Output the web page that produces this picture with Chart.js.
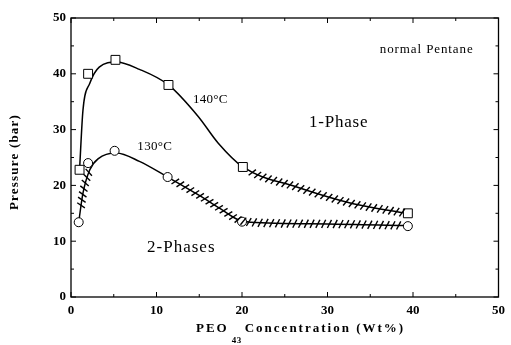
<!DOCTYPE html>
<html><head><meta charset="utf-8">
<script src="https://cdn.jsdelivr.net/npm/chart.js@4.4.1/dist/chart.umd.min.js"></script>
<style>html,body{margin:0;padding:0;background:#fff}#wrap{width:511px;height:345px}</style>
</head><body><div id="wrap"><canvas id="c" width="511" height="345"></canvas></div>
<script>
// ---- data ----
const xTickValues = [0, 10, 20, 30, 40, 50];
const yTickValues = [0, 10, 20, 30, 40, 50];
const conc140 = [1.0, 2.0, 5.2, 11.4, 20.1, 39.4];
const press140 = [22.8, 40.0, 42.5, 38.0, 23.3, 15.0];
const conc130 = [0.9, 2.0, 5.1, 11.3, 20.0, 39.4];
const press130 = [13.4, 24.0, 26.2, 21.5, 13.5, 12.7];
const curve140X = [1.0, 1.4, 2.2, 3.3, 5.3, 8.0, 11.4, 14.9, 17.2, 20.1, 26.4, 33.0, 38.8];
const curve140Y = [22.8, 33.5, 38.3, 41.2, 42.1, 40.8, 38.0, 32.3, 27.6, 23.3, 19.7, 16.7, 15.1];
const curve130X = [0.9, 1.4, 2.2, 3.2, 5.3, 8.0, 11.3, 14.9, 17.5, 19.5, 21.0, 30.0, 39.0];
const curve130Y = [13.4, 18.6, 22.8, 24.8, 25.8, 24.3, 21.5, 18.3, 15.8, 13.9, 13.4, 13.1, 12.8];
const hatch140 = [[20.8, 38.8]];
const hatch130 = [[1.1, 2.1], [11.9, 38.9]];
const labels = ['normal Pentane', '1-Phase', '140°C', '130°C', '2-Phases'];

const pts = (xs, ys) => xs.map((x, i) => ({x, y: ys[i]}));
const SERIF = '"Liberation Serif", "Times New Roman", serif';

const annotations = [
  {text: labels[0], x: 41.6, y: 44.4, font: '13px ' + SERIF, ls: '0.9px'},
  {text: labels[1], x: 31.3, y: 31.2, font: '17px ' + SERIF, ls: '0.8px'},
  {text: labels[2], x: 16.3, y: 35.3, font: '13px ' + SERIF, ls: '0.3px'},
  {text: labels[3], x: 9.8, y: 26.9, font: '13px ' + SERIF, ls: '0.3px'},
  {text: labels[4], x: 12.9, y: 8.8, font: '17px ' + SERIF, ls: '1px'}
];

const setLS = (ctx, v) => { if ('letterSpacing' in ctx) ctx.letterSpacing = v; };

const framePlugin = {
  id: 'frame',
  afterDatasetsDraw(chart) {
    const ctx = chart.ctx, a = chart.chartArea;
    const xs = chart.scales.x, ys = chart.scales.y;
    ctx.save();
    ctx.strokeStyle = '#000';
    ctx.lineWidth = 1.3;
    ctx.strokeRect(a.left, a.top, a.right - a.left, a.bottom - a.top);
    ctx.lineWidth = 1;
    for (let v = 0; v <= 50; v += 5) {
      const len = (v % 10 === 0) ? 5 : 3;
      const px = xs.getPixelForValue(v);
      ctx.beginPath();
      ctx.moveTo(px, a.bottom); ctx.lineTo(px, a.bottom - len);
      ctx.moveTo(px, a.top); ctx.lineTo(px, a.top + len);
      const py = ys.getPixelForValue(v);
      ctx.moveTo(a.left, py); ctx.lineTo(a.left + len, py);
      ctx.moveTo(a.right, py); ctx.lineTo(a.right - len, py);
      ctx.stroke();
    }
    // hatch marks along the boundary curves
    const hatchSets = [[0, hatch140], [1, hatch130]];
    ctx.lineWidth = 1.4;
    for (const [di, ranges] of hatchSets) {
      const p = chart.getDatasetMeta(di).data;
      let acc = 0;
      const spacing = 5.5, half = 4.6, rel = 64 * Math.PI / 180;
      for (let i = 0; i < p.length - 1; i++) {
        const p0 = p[i], p3 = p[i + 1];
        const c1x = p0.cp2x ?? p0.x, c1y = p0.cp2y ?? p0.y;
        const c2x = p3.cp1x ?? p3.x, c2y = p3.cp1y ?? p3.y;
        let prevX = p0.x, prevY = p0.y;
        const N = 80;
        for (let k = 1; k <= N; k++) {
          const t = k / N, u = 1 - t;
          const bx = u*u*u*p0.x + 3*u*u*t*c1x + 3*u*t*t*c2x + t*t*t*p3.x;
          const by = u*u*u*p0.y + 3*u*u*t*c1y + 3*u*t*t*c2y + t*t*t*p3.y;
          const dx = bx - prevX, dy = by - prevY;
          acc += Math.hypot(dx, dy);
          if (acc >= spacing) {
            acc = 0;
            const xv = xs.getValueForPixel(bx);
            if (ranges.some(r => xv >= r[0] && xv <= r[1])) {
              const ang = Math.atan2(-dy, dx) + rel;
              const ux = Math.cos(ang), uy = -Math.sin(ang);
              ctx.beginPath();
              ctx.moveTo(bx - ux * half, by - uy * half);
              ctx.lineTo(bx + ux * half, by + uy * half);
              ctx.stroke();
            }
          }
          prevX = bx; prevY = by;
        }
      }
    }
    ctx.restore();
  },
  afterDraw(chart) {
    const ctx = chart.ctx;
    const xs = chart.scales.x, ys = chart.scales.y;
    ctx.save();
    ctx.fillStyle = '#000';
    ctx.textBaseline = 'middle';
    ctx.textAlign = 'center';
    for (const an of annotations) {
      ctx.font = an.font;
      setLS(ctx, an.ls);
      ctx.fillText(an.text, xs.getPixelForValue(an.x), ys.getPixelForValue(an.y));
    }
    // y axis title
    ctx.save();
    ctx.translate(15, 162);
    ctx.rotate(-Math.PI / 2);
    ctx.font = 'bold 13px ' + SERIF;
    setLS(ctx, '1.2px');
    ctx.fillText('Pressure (bar)', 0, 0);
    ctx.restore();
    // x axis title with subscript
    ctx.textAlign = 'left';
    ctx.font = 'bold 13px ' + SERIF;
    setLS(ctx, '2px');
    let x = 196;
    ctx.fillText('PEO', x, 329);
    x += ctx.measureText('PEO').width + 3;
    ctx.font = 'bold 9px ' + SERIF;
    setLS(ctx, '0.5px');
    ctx.fillText('43', x, 341);
    x += ctx.measureText('43').width + 3;
    ctx.font = 'bold 13px ' + SERIF;
    setLS(ctx, '2px');
    ctx.fillText('Concentration (Wt%)', x, 329);
    ctx.restore();
  }
};

new Chart(document.getElementById('c'), {
  type: 'scatter',
  data: {
    datasets: [
      {label: 'curve140', data: pts(curve140X, curve140Y), showLine: true, borderColor: '#000', borderWidth: 1.5,
       pointRadius: 0, cubicInterpolationMode: 'monotone', fill: false, order: 2},
      {label: 'curve130', data: pts(curve130X, curve130Y), showLine: true, borderColor: '#000', borderWidth: 1.5,
       pointRadius: 0, cubicInterpolationMode: 'monotone', fill: false, order: 2},
      {label: '140°C', data: pts(conc140, press140), pointStyle: 'rect', pointRadius: 6.3,
       pointBackgroundColor: '#fff', pointBorderColor: '#000', pointBorderWidth: 1, order: 1},
      {label: '130°C', data: pts(conc130, press130), pointStyle: 'circle', pointRadius: 4.5,
       pointBackgroundColor: '#fff', pointBorderColor: '#000', pointBorderWidth: 1, order: 0}
    ]
  },
  options: {
    responsive: false,
    animation: false,
    events: [],
    layout: {padding: {left: 4, right: 7, top: 18, bottom: 0}},
    plugins: {legend: {display: false}, tooltip: {enabled: false}},
    scales: {
      x: {
        type: 'linear', min: 0, max: 50,
        afterBuildTicks: s => { s.ticks = xTickValues.map(v => ({value: v})); },
        afterFit: s => { s.height = 48; },
        grid: {display: false, drawTicks: false}, border: {display: false},
        ticks: {color: '#000', padding: 6, maxRotation: 0, font: {family: SERIF, size: 13, weight: 'bold'}}
      },
      y: {
        min: 0, max: 50,
        afterBuildTicks: s => { s.ticks = yTickValues.map(v => ({value: v})); },
        afterFit: s => { s.width = 67; },
        grid: {display: false, drawTicks: false}, border: {display: false},
        ticks: {color: '#000', padding: 5, font: {family: SERIF, size: 13, weight: 'bold'}}
      }
    }
  },
  plugins: [framePlugin]
});
</script></body></html>
